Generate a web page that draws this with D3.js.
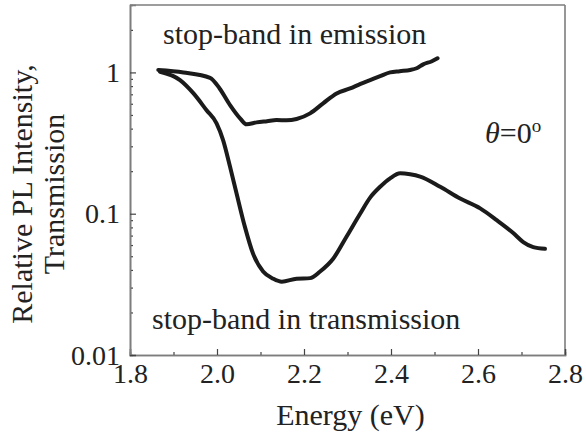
<!DOCTYPE html>
<html>
<head>
<meta charset="utf-8">
<script src="https://cdn.jsdelivr.net/npm/d3@7"></script>
<style>
  html, body { margin: 0; padding: 0; background: #fff; }
  svg { display: block; }
</style>
</head>
<body>
<svg id="chart" width="586" height="442"></svg>
<script>
// Photoluminescence spectrum (stop-band in emission)
const emissionEnergy = [1.865, 1.923, 1.984, 2.006, 2.030, 2.053, 2.068, 2.091, 2.115, 2.137, 2.160, 2.183, 2.214, 2.244, 2.275, 2.306, 2.330, 2.352, 2.375, 2.398, 2.420, 2.444, 2.459, 2.474, 2.494, 2.507];
const emissionValue  = [1.04, 1.00, 0.916, 0.77, 0.587, 0.473, 0.429, 0.443, 0.452, 0.46, 0.458, 0.468, 0.513, 0.604, 0.71, 0.77, 0.83, 0.882, 0.94, 1.0, 1.02, 1.04, 1.07, 1.14, 1.2, 1.26];

// Transmission spectrum (stop-band in transmission)
const transEnergy = [1.869, 1.915, 1.946, 1.976, 1.999, 2.014, 2.030, 2.045, 2.064, 2.083, 2.106, 2.129, 2.149, 2.183, 2.214, 2.237, 2.267, 2.298, 2.329, 2.352, 2.375, 2.398, 2.421, 2.444, 2.467, 2.513, 2.559, 2.605, 2.643, 2.681, 2.704, 2.727, 2.754];
const transValue  = [1.01, 0.882, 0.71, 0.54, 0.436, 0.332, 0.215, 0.139, 0.081, 0.052, 0.039, 0.0347, 0.033, 0.0347, 0.035, 0.039, 0.048, 0.069, 0.1, 0.13, 0.155, 0.178, 0.193, 0.19, 0.183, 0.155, 0.128, 0.109, 0.09, 0.073, 0.063, 0.058, 0.0564];

const xMajorTicks = [1.8, 2.0, 2.2, 2.4, 2.6, 2.8];
const xMinorTicks = [1.9, 2.1, 2.3, 2.5, 2.7];
const yMajorTicks = [0.01, 0.1, 1];
const yTickLabels = ["0.01", "0.1", "1"];
const yMinorTicks = [0.02, 0.03, 0.04, 0.05, 0.06, 0.07, 0.08, 0.09,
                     0.2, 0.3, 0.4, 0.5, 0.6, 0.7, 0.8, 0.9, 2];

const FONT = '"Liberation Serif"';
const TEXT_COLOR = "#222";

const svg = d3.select("#chart").style("font-family", FONT);
const plotLeft = 130, plotRight = 565, plotTop = 5, plotBottom = 355;

const x = d3.scaleLinear().domain([1.8, 2.8]).range([plotLeft, plotRight]);
const y = d3.scaleLog().domain([0.01, 3]).range([plotBottom, plotTop]);

const axisColor = "#7d7d7d";

// frame: top and right edges
svg.append("line").attr("x1", plotLeft).attr("x2", plotRight).attr("y1", plotTop).attr("y2", plotTop)
  .attr("stroke", axisColor).attr("stroke-width", 1.6);
svg.append("line").attr("x1", plotRight).attr("x2", plotRight).attr("y1", plotTop).attr("y2", plotBottom)
  .attr("stroke", axisColor).attr("stroke-width", 1.6);

function setFont(sel, size) {
  sel.attr("font-family", FONT)
    .style("font-family", FONT)
    .attr("font-size", size)
    .style("font-size", size + "px")
    .attr("fill", TEXT_COLOR);
}

function styleAxis(g) {
  g.attr("font-family", FONT);
  g.select(".domain").attr("stroke", axisColor).attr("stroke-width", 1.6);
  g.selectAll(".tick line").attr("stroke", "#444").attr("stroke-width", 1.2);
  setFont(g.selectAll(".tick text"), 28);
}

// bottom axis: inward ticks
const xMinorG = svg.append("g").attr("transform", `translate(0,${plotBottom})`)
  .call(d3.axisBottom(x).tickValues(xMinorTicks).tickSize(-3).tickFormat(""));
styleAxis(xMinorG);
const xAxisG = svg.append("g").attr("transform", `translate(0,${plotBottom})`)
  .call(d3.axisBottom(x).tickValues(xMajorTicks).tickSize(-6).tickPadding(8)
    .tickFormat(d3.format(".1f")));
styleAxis(xAxisG);
xAxisG.selectAll(".tick text").attr("dy", "0.73em");

// left axis: inward ticks, logarithmic
const yMinorG = svg.append("g").attr("transform", `translate(${plotLeft},0)`)
  .call(d3.axisLeft(y).tickValues(yMinorTicks).tickSize(-3).tickFormat(""));
styleAxis(yMinorG);
const yAxisG = svg.append("g").attr("transform", `translate(${plotLeft},0)`)
  .call(d3.axisLeft(y).tickValues(yMajorTicks).tickSize(-6).tickPadding(10)
    .tickFormat((d, i) => yTickLabels[i]));
styleAxis(yAxisG);
yAxisG.selectAll(".tick text").attr("dy", "0.33em");

// spectra
const line = d3.line()
  .x(d => x(d[0]))
  .y(d => y(d[1]))
  .curve(d3.curveMonotoneX);

const emission = d3.zip(emissionEnergy, emissionValue);
const transmission = d3.zip(transEnergy, transValue);

[emission, transmission].forEach(series => {
  svg.append("path")
    .datum(series)
    .attr("d", line)
    .attr("fill", "none")
    .attr("stroke", "#1b1b1b")
    .attr("stroke-width", 4)
    .attr("stroke-linejoin", "round")
    .attr("stroke-linecap", "round");
});

// annotations
setFont(svg.append("text").attr("x", 163).attr("y", 44).text("stop-band in emission"), 30);
setFont(svg.append("text").attr("x", 152).attr("y", 329).text("stop-band in transmission"), 30);

const theta = svg.append("text").attr("x", 485).attr("y", 143);
setFont(theta, 30);
theta.append("tspan").style("font-style", "italic").text("θ");
theta.append("tspan").text("=0");
theta.append("tspan").attr("dy", -11).style("font-size", "19px").text("o");

// axis titles
setFont(svg.append("text")
  .attr("x", (plotLeft + plotRight) / 2 + 3).attr("y", 425)
  .attr("text-anchor", "middle")
  .text("Energy (eV)"), 30);

const yTitle = svg.append("g").attr("transform", "translate(0,194) rotate(-90)");
setFont(yTitle.append("text").attr("x", 0).attr("y", 32)
  .attr("text-anchor", "middle")
  .text("Relative PL Intensity,"), 30);
setFont(yTitle.append("text").attr("x", 0).attr("y", 64)
  .attr("text-anchor", "middle")
  .text("Transmission"), 30);
</script>
</body>
</html>
